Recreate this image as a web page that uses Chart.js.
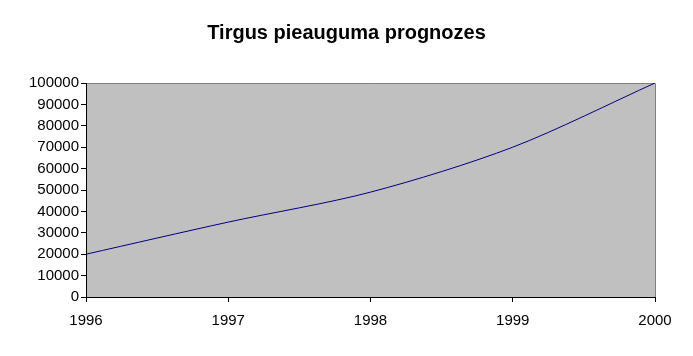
<!DOCTYPE html>
<html>
<head>
<meta charset="utf-8">
<script src="https://cdn.jsdelivr.net/npm/chart.js@4"></script>
<style>
  html, body { margin: 0; padding: 0; background: #fff; }
  #wrap { width: 693px; height: 356px; }
</style>
</head>
<body>
<div id="wrap"><canvas id="c" width="693" height="356"></canvas></div>
<script>
/* data */
const years = [1996, 1997, 1998, 1999, 2000];
const growth = [20000, 35000, 49000, 70000, 100000];
const chartTitle = 'Tirgus pieauguma prognozes';

const font = { family: 'Arial, "Liberation Sans", sans-serif', size: 15 };

/* gray plot area with gray top/right frame */
const plotBg = {
  id: 'plotBg',
  beforeDraw(chart) {
    const { ctx, chartArea: a } = chart;
    ctx.save();
    ctx.fillStyle = '#c0c0c0';
    ctx.fillRect(a.left, a.top, a.right - a.left, a.bottom - a.top);
    ctx.strokeStyle = '#808080';
    ctx.lineWidth = 1;
    ctx.beginPath();
    ctx.moveTo(a.left, a.top + 0.5);
    ctx.lineTo(a.right + 0.5, a.top + 0.5);
    ctx.lineTo(a.right + 0.5, a.bottom);
    ctx.stroke();
    ctx.restore();
  }
};

/* title centred on the whole canvas */
const pageTitle = {
  id: 'pageTitle',
  afterDraw(chart) {
    const ctx = chart.ctx;
    ctx.save();
    ctx.fillStyle = '#000';
    ctx.font = `bold 20px ${font.family}`;
    ctx.textAlign = 'center';
    ctx.textBaseline = 'middle';
    ctx.fillText(chartTitle, chart.width / 2, 33);
    ctx.restore();
  }
};

new Chart(document.getElementById('c'), {
  type: 'line',
  data: {
    datasets: [{
      data: years.map((y, i) => ({ x: y, y: growth[i] })),
      borderColor: '#000080',
      borderWidth: 1,
      pointRadius: 0,
      tension: 0.3,
      fill: false
    }]
  },
  options: {
    responsive: false,
    animation: false,
    layout: { padding: { left: 0, right: 38, top: 83, bottom: 19 } },
    plugins: {
      legend: { display: false },
      tooltip: { enabled: false },
      title: { display: false }
    },
    scales: {
      x: {
        type: 'linear',
        min: 1996, max: 2000,
        afterFit: s => { s.height = 40; },
        grid: { drawOnChartArea: false, drawTicks: true, tickLength: 5, color: '#000' },
        border: { display: true, color: '#000', width: 1 },
        ticks: { stepSize: 1, color: '#000', font, padding: 10, callback: v => String(v) }
      },
      y: {
        min: 0, max: 100000,
        afterFit: s => { s.width = 86; },
        grid: { drawOnChartArea: false, drawTicks: true, tickLength: 5, color: '#000' },
        border: { display: true, color: '#000', width: 1 },
        ticks: { stepSize: 10000, color: '#000', font, padding: 2, callback: v => String(v) }
      }
    }
  },
  plugins: [plotBg, pageTitle]
});
</script>
</body>
</html>
